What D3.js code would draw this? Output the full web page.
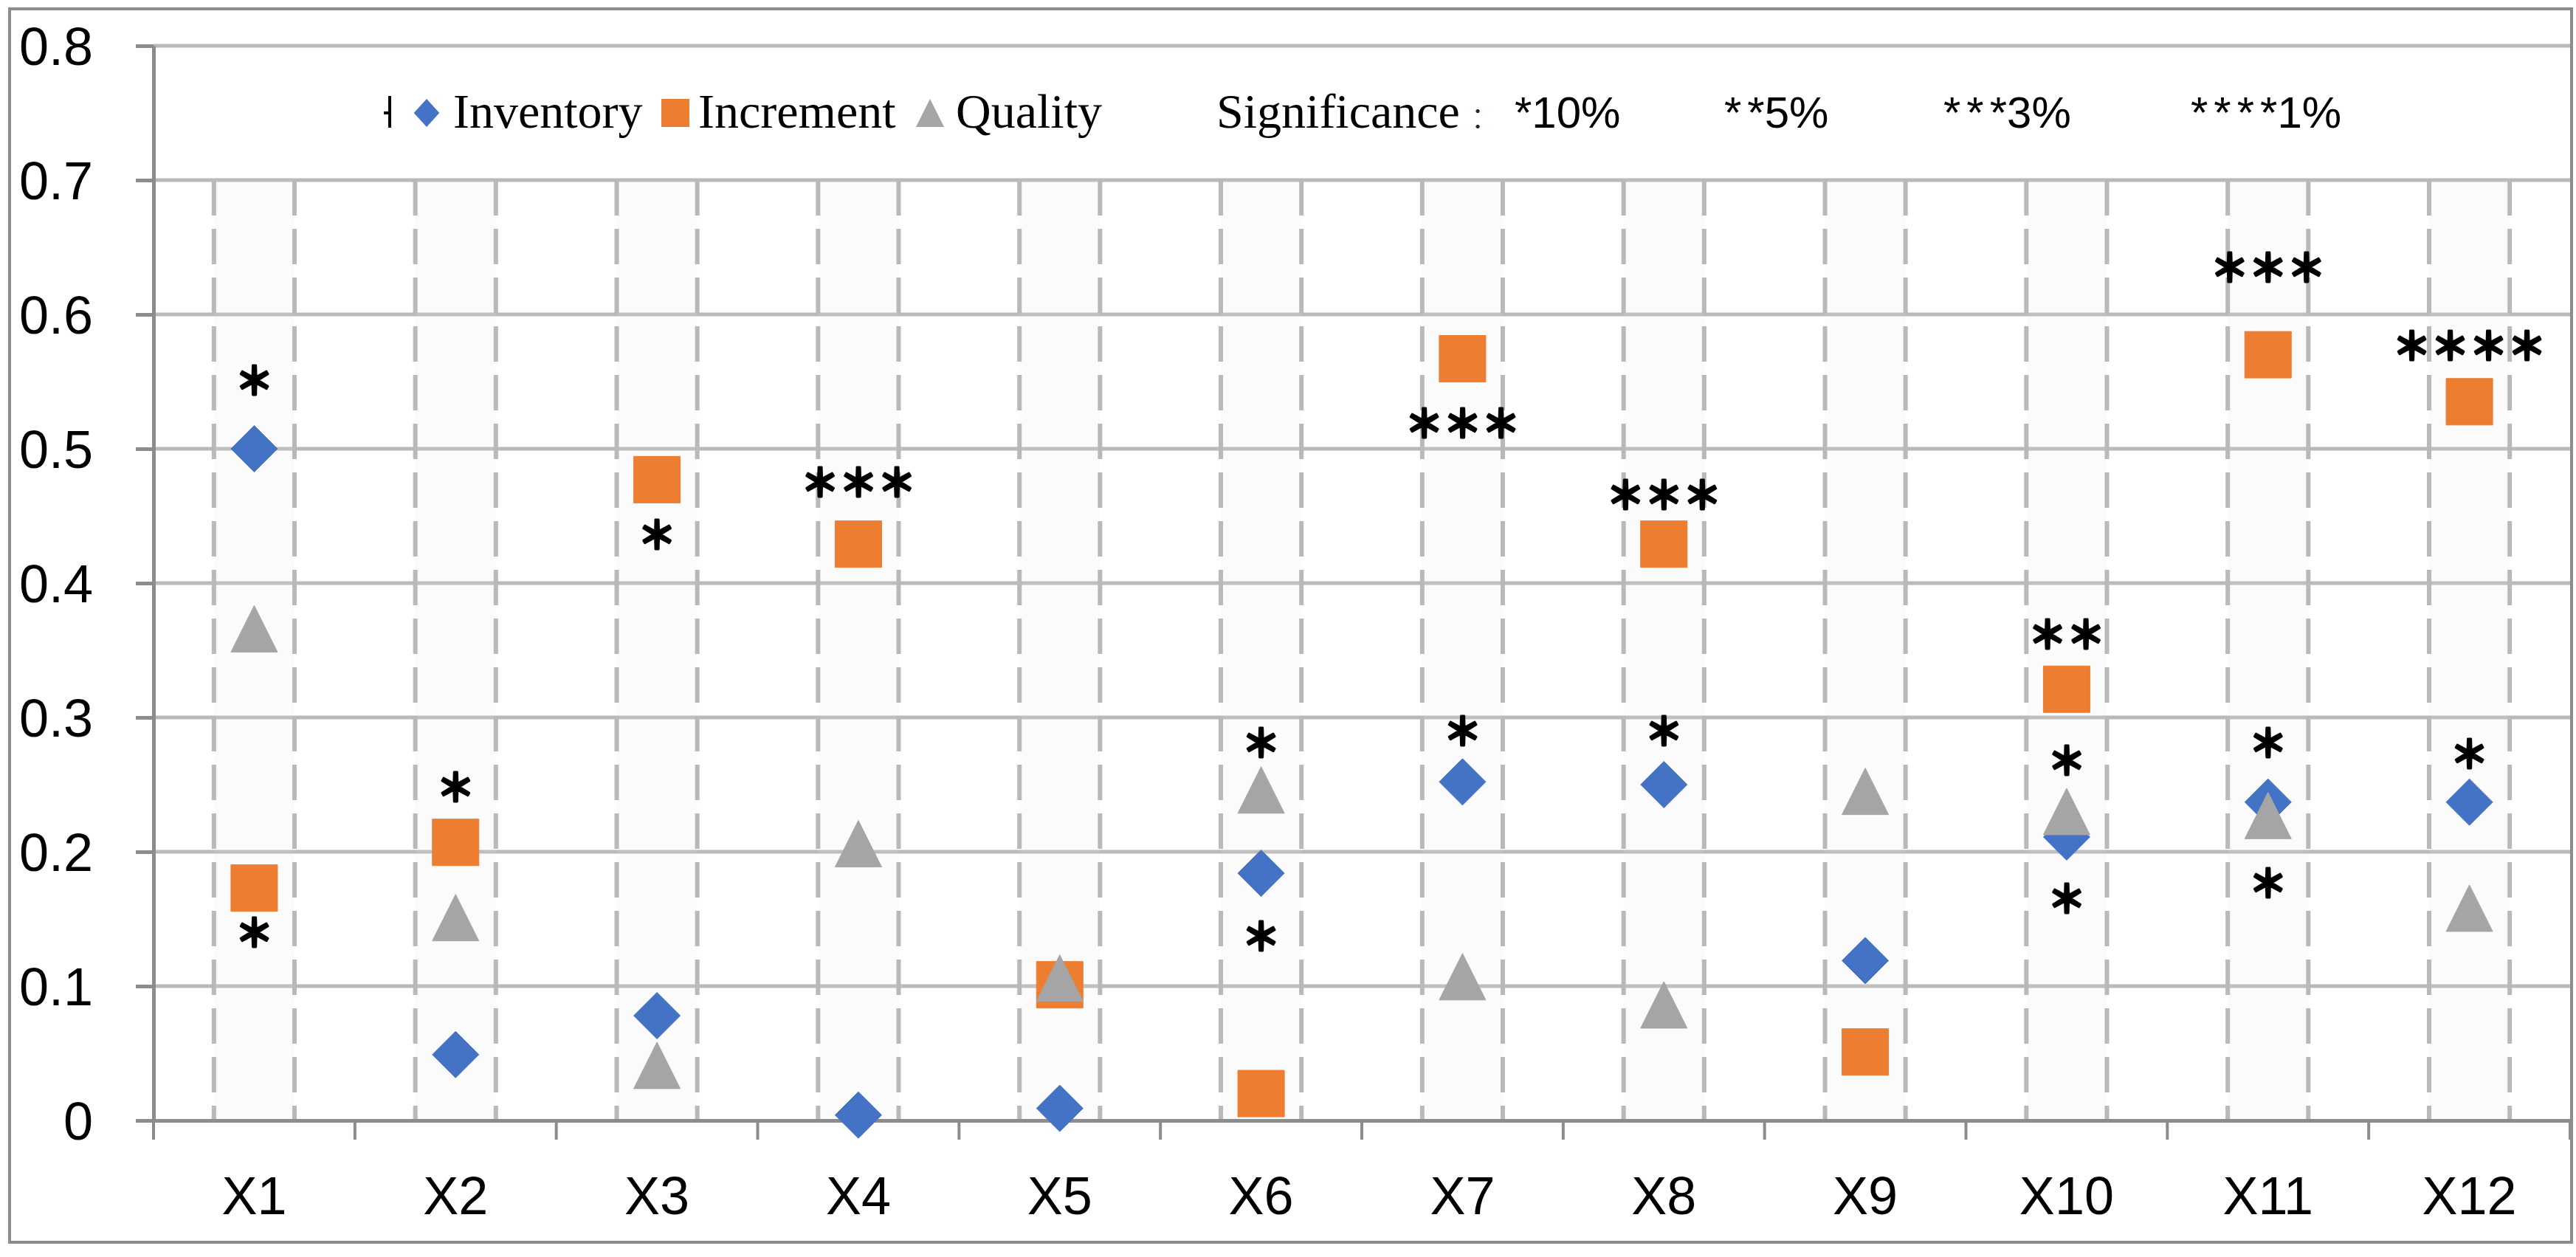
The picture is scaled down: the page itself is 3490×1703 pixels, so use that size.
<!DOCTYPE html>
<html>
<head>
<meta charset="utf-8">
<script src="https://cdn.jsdelivr.net/npm/d3@7/dist/d3.min.js"></script>
<style>
html,body{margin:0;padding:0;background:#fff;}
svg{display:block;}
</style>
</head>
<body>
<svg id="chart" width="3490" height="1703"></svg>
<script>
// ---------- data ----------
const categories = ["X1","X2","X3","X4","X5","X6","X7","X8","X9","X10","X11","X12"];
const inventory  = [0.500,0.049,0.078,0.004,0.009,0.184,0.252,0.250,0.119,0.211,0.237,0.237];
const increment  = [0.173,0.207,0.477,0.429,0.101,0.020,0.567,0.429,0.051,0.321,0.570,0.535];
const quality    = [0.366,0.151,0.041,0.206,0.106,0.246,0.107,0.086,0.245,0.230,0.227,0.158];
const bandValues = [0.7,0.7,0.7,0.7,0.7,0.7,0.7,0.7,0.7,0.7,0.7,0.7];
const yTicks      = [0,0.1,0.2,0.3,0.4,0.5,0.6,0.7,0.8];
const yTickLabels = ["0","0.1","0.2","0.3","0.4","0.5","0.6","0.7","0.8"];
const sigCats = ["X1","X1","X2","X3","X4","X6","X6","X7","X7","X8","X8","X10","X10","X10","X11","X11","X11","X12","X12"];
const sigVals = [0.551,0.140,0.248,0.436,0.475,0.281,0.137,0.290,0.519,0.466,0.290,0.362,0.268,0.165,0.635,0.281,0.177,0.577,0.273];
const sigText = ["＊","＊","＊","＊","＊＊＊","＊","＊","＊","＊＊＊","＊＊＊","＊","＊＊","＊","＊","＊＊＊","＊","＊","＊＊＊＊","＊"];
const seriesNames = ["Inventory","Increment","Quality"];
const sigLegendTitle = "Significance";
const sigLegendStars = ["*","**","***","****"];
const sigLegendLevels = ["10%","5%","3%","1%"];

// ---------- setup ----------
const svg = d3.select("#chart");
const W = 3490, H = 1703;
const colors = {Inventory:"#4472C4", Increment:"#ED7D31", Quality:"#A5A5A5"};
const gridColor = "#b9b9b9", axisColor = "#8c8c8c";
const plot = {left:208, right:3482, top:62, bottom:1518};

svg.append("rect").attr("x",0).attr("y",0).attr("width",W).attr("height",H).attr("fill","#fff");
svg.append("rect").attr("x",13).attr("y",12).attr("width",3471).attr("height",1671)
  .attr("fill","#fff").attr("stroke","#8c8c8c").attr("stroke-width",4);

const x = d3.scaleBand().domain(categories).range([plot.left, plot.right]).paddingInner(0).paddingOuter(0);
const y = d3.scaleLinear().domain([0,0.8]).range([plot.bottom, plot.top]);
const cx = c => x(c) + x.bandwidth()/2;

// gridlines
svg.append("g").selectAll("line").data(yTicks.filter(v=>v>0)).join("line")
  .attr("x1",plot.left).attr("x2",plot.right)
  .attr("y1",d=>y(d)).attr("y2",d=>y(d))
  .attr("stroke",gridColor).attr("stroke-width",5);

// bands (background bars with long-dash borders)
const bw = x.bandwidth()*0.4;
const bandG = svg.append("g");
bandG.selectAll("rect").data(categories).join("rect")
  .attr("x",c=>cx(c)-bw/2).attr("width",bw)
  .attr("y",(c,i)=>y(bandValues[i])).attr("height",(c,i)=>y(0)-y(bandValues[i]))
  .attr("fill","rgba(228,228,228,0.15)");
["l","r"].forEach(side=>{
  const off = side==="l" ? -bw/2 : bw/2;
  bandG.selectAll("line."+side).data(categories).join("line").attr("class",side)
    .attr("x1",c=>cx(c)+off).attr("x2",c=>cx(c)+off)
    .attr("y1",(c,i)=>y(bandValues[i])).attr("y2",y(0))
    .attr("stroke",gridColor).attr("stroke-width",6).attr("stroke-dasharray","48,18");
});

// y axis
const yAxis = d3.axisLeft(y).tickValues(yTicks).tickSize(24).tickSizeOuter(0).tickPadding(58)
  .tickFormat((d,i)=>yTickLabels[i]);
const yg = svg.append("g").attr("transform",`translate(${plot.left},0)`).call(yAxis);
yg.select(".domain").attr("stroke",axisColor).attr("stroke-width",5);
yg.selectAll(".tick line").attr("stroke",axisColor).attr("stroke-width",5);
yg.selectAll(".tick text").attr("font-family","'Liberation Sans', Arial, sans-serif")
  .attr("font-size",72).attr("fill","#000").attr("dy","0.36em");

// x axis
const xAxis = d3.axisBottom(x).tickSize(0).tickSizeOuter(0).tickPadding(76);
const xg = svg.append("g").attr("transform",`translate(0,${plot.bottom})`).call(xAxis);
xg.select(".domain").attr("stroke",axisColor).attr("stroke-width",5);
xg.selectAll(".tick text").attr("font-family","'Liberation Sans', Arial, sans-serif")
  .attr("font-size",72).attr("fill","#000");
const boundaries = categories.map(c=>x(c)).concat([x.range()[1]]);
svg.append("g").selectAll("line").data(boundaries).join("line")
  .attr("x1",d=>d).attr("x2",d=>d).attr("y1",plot.bottom).attr("y2",plot.bottom+26)
  .attr("stroke",axisColor).attr("stroke-width",4);

// markers
const ms = 63;
const markerPath = {
  Inventory: s => `M0,${-s/2} L${s/2},0 L0,${s/2} L${-s/2},0 Z`,
  Increment: s => `M${-s/2},${-s/2} H${s/2} V${s/2} H${-s/2} Z`,
  Quality:   s => `M0,${-s/2} L${s/2},${s/2} L${-s/2},${s/2} Z`
};
const seriesData = {Inventory:inventory, Increment:increment, Quality:quality};
seriesNames.forEach(name=>{
  svg.append("g").selectAll("path").data(categories).join("path")
    .attr("transform",(c,i)=>`translate(${cx(c)},${y(seriesData[name][i])})`)
    .attr("d",markerPath[name](ms))
    .attr("fill",colors[name]).attr("stroke",colors[name]).attr("stroke-width",1).attr("stroke-linejoin","round");
});

// significance annotations
const sigFs = 52;
svg.append("g").selectAll("text").data(sigCats).join("text")
  .attr("x",c=>cx(c)).attr("y",(c,i)=>y(sigVals[i]) + sigFs*0.38)
  .attr("text-anchor","middle")
  .attr("font-family","'Noto Sans CJK SC', sans-serif")
  .attr("font-size",sigFs).attr("font-weight","bold").attr("fill","#000")
  .attr("stroke","#000").attr("stroke-width",3).attr("stroke-linejoin","round")
  .text((c,i)=>sigText[i]);

// legend
const lg = svg.append("g");
const lgBase = 173, lgMid = 153, lms = 38;
// leading error-bar-like glyph
lg.append("path").attr("d",`M528,130 V173 M520,153 H528`).attr("stroke","#000").attr("stroke-width",4).attr("fill","none");
const legendX = {Inventory:[578,614], Increment:[915,946], Quality:[1260,1295]};
seriesNames.forEach(name=>{
  lg.append("path").attr("transform",`translate(${legendX[name][0]},${lgMid})`)
    .attr("d", name==="Inventory" ? `M0,${-lms/2} L${lms/2.2},0 L0,${lms/2} L${-lms/2.2},0 Z` : markerPath[name](lms))
    .attr("fill",colors[name]);
  lg.append("text").attr("x",legendX[name][1]).attr("y",lgBase)
    .attr("font-family","'Liberation Serif', 'Times New Roman', serif").attr("font-size",66).attr("fill","#000")
    .text(name);
});
lg.append("text").attr("x",1648).attr("y",lgBase)
  .attr("font-family","'Liberation Serif', 'Times New Roman', serif").attr("font-size",66).attr("fill","#000")
  .text(sigLegendTitle);
lg.append("text").attr("x",1992).attr("y",lgBase)
  .attr("font-family","'Noto Sans CJK SC', sans-serif").attr("font-size",40).attr("font-weight",300).attr("fill","#222")
  .text("：");
const sigStartX = [2052,2336,2633,2968];
sigLegendStars.forEach((s,i)=>{
  const t = lg.append("text").attr("x",sigStartX[i]).attr("y",lgBase)
    .attr("font-family","'Liberation Sans', Arial, sans-serif").attr("font-size",60).attr("fill","#000");
  if (s.length > 1) t.append("tspan").attr("letter-spacing",8).text(s.slice(0,-1));
  t.append("tspan").text(s.slice(-1) + sigLegendLevels[i]);
});
</script>
</body>
</html>
